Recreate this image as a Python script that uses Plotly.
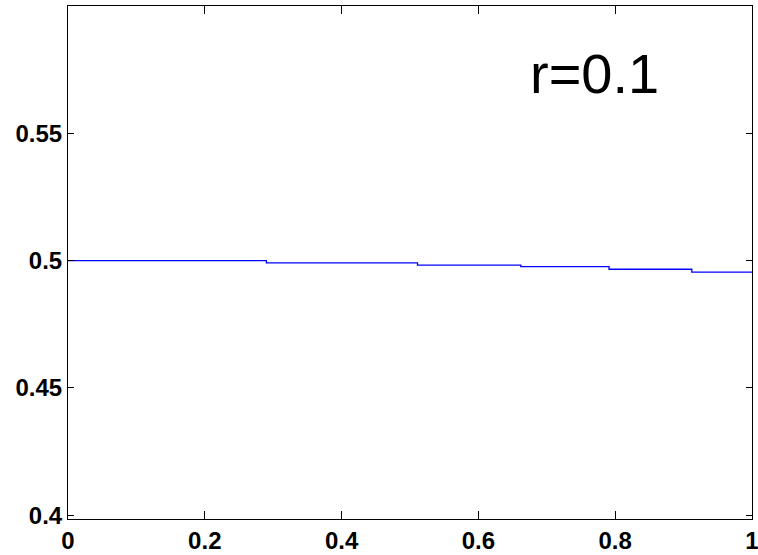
import plotly.graph_objects as go

# step breakpoints (x) and level values (y)
x_steps = [0, 0.29, 0.511, 0.662, 0.791, 0.912, 1.0]
y_levels = [0.5, 0.4991, 0.4982, 0.4976, 0.4966, 0.4955, 0.4955]

x_ticks = [0, 0.2, 0.4, 0.6, 0.8, 1]
x_ticklabels = ["0", "0.2", "0.4", "0.6", "0.8", "1"]
y_ticks = [0.4, 0.45, 0.5, 0.55]
y_ticklabels = ["0.4", "0.45", "0.5", "0.55"]

annotation_text = "r=0.1"

fig = go.Figure()
fig.add_trace(go.Scatter(
    x=x_steps, y=y_levels, mode="lines", line_shape="hv",
    line=dict(color="#0000ff", width=1.3), showlegend=False,
))

tickfont = dict(family="Liberation Sans", size=24, color="black")
axis_common = dict(
    showgrid=False, zeroline=False, showline=True, linecolor="black", linewidth=1,
    mirror="ticks", ticks="inside", tickcolor="black", tickwidth=1,
    tickfont=tickfont, automargin=False, ticklabeloverflow="allow",
)
fig.update_xaxes(range=[0, 1], tickvals=x_ticks, ticktext=["<b>%s</b>" % t for t in x_ticklabels],
                 ticklen=8, **axis_common)
fig.update_yaxes(range=[0.3985, 0.6], tickvals=y_ticks, ticktext=["<b>%s</b>" % t for t in y_ticklabels],
                 ticklen=6, **axis_common)

fig.add_annotation(
    x=0.77, y=0.869, xref="paper", yref="paper", text=annotation_text, showarrow=False,
    font=dict(family="Liberation Sans", size=56, color="black"),
    xanchor="center", yanchor="middle",
)

fig.update_layout(
    width=758, height=555,
    margin=dict(l=68, r=6, t=6, b=36),
    plot_bgcolor="white", paper_bgcolor="white",
)

fig.write_html("out.html", config={"displayModeBar": False},
               post_script="document.body.style.margin='0';")
